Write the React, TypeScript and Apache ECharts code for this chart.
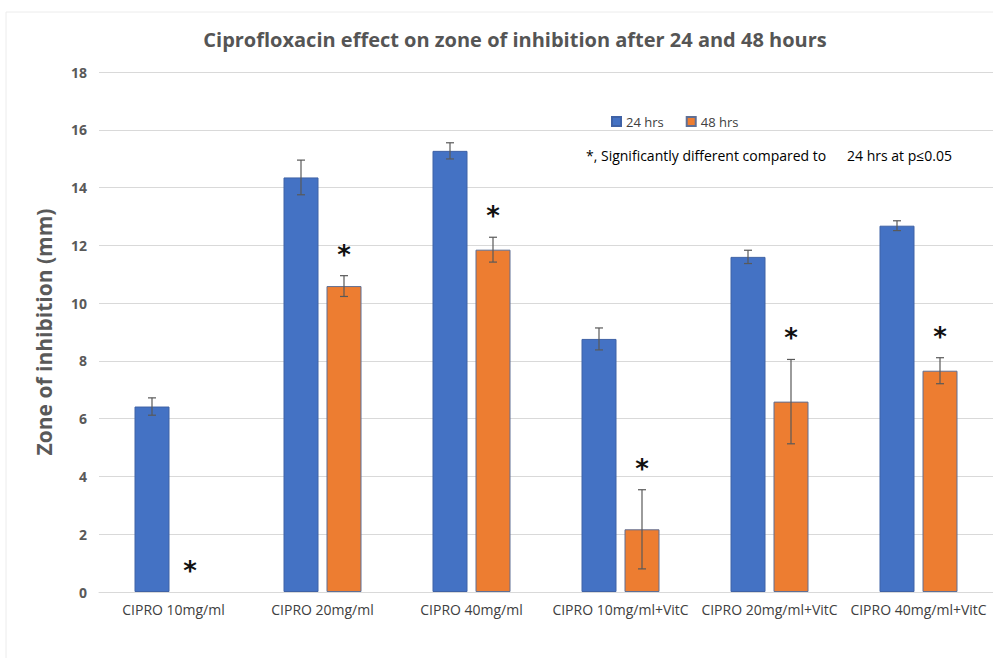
import React, { useEffect, useRef } from "react";
import * as echarts from "echarts";

const categories = [
  "CIPRO 10mg/ml",
  "CIPRO 20mg/ml",
  "CIPRO 40mg/ml",
  "CIPRO 10mg/ml+VitC",
  "CIPRO 20mg/ml+VitC",
  "CIPRO 40mg/ml+VitC",
];
const hrs24 = [6.42, 14.35, 15.27, 8.76, 11.6, 12.68];
const err24 = [0.3, 0.6, 0.28, 0.38, 0.23, 0.17];
const hrs48 = [0, 10.59, 11.85, 2.17, 6.59, 7.66];
const err48 = [0, 0.36, 0.43, 1.37, 1.46, 0.45];
const significant48 = [true, true, true, true, true, true];
const yTicks = { min: 0, max: 18, interval: 2 };

const BAR_W = 35;
const GAP = 8;
const OFFSET = (BAR_W + GAP) / 2;
const FONT = "'Open Sans', 'Noto Sans', sans-serif";

function barData(vals: number[]) {
  return vals.map((v) => (v === 0 ? { value: v, itemStyle: { borderWidth: 0 } } : v));
}

function errorSeries(name: string, vals: number[], errs: number[], offset: number) {
  return {
    type: "custom",
    name: name + " err",
    z: 5,
    silent: true,
    data: vals.map((v, i) => [i, v, errs[i]]),
    renderItem: (params: any, api: any) => {
      const i = api.value(0);
      const v = api.value(1);
      const e = api.value(2);
      if (!e) return { type: "group", children: [] };
      const c = api.coord([i, v]);
      const x = c[0] + offset;
      const top = api.coord([i, v + e])[1];
      const bot = api.coord([i, Math.max(0, v - e)])[1];
      const style = { stroke: "#595959", lineWidth: 1.2 };
      const cap = 4;
      return {
        type: "group",
        children: [
          { type: "line", shape: { x1: x, y1: top, x2: x, y2: bot }, style },
          { type: "line", shape: { x1: x - cap, y1: top, x2: x + cap, y2: top }, style },
          { type: "line", shape: { x1: x - cap, y1: bot, x2: x + cap, y2: bot }, style },
        ],
      };
    },
  };
}

export default function App() {
  const ref = useRef<HTMLDivElement>(null);
  useEffect(() => {
    if (!ref.current) return;
    const chart = echarts.init(ref.current, null, { renderer: "svg" });
    const option: any = {
      animation: false,
      backgroundColor: "#ffffff",
      title: {
        text: "Ciprofloxacin effect on zone of inhibition after 24 and 48 hours",
        left: 510,
        textAlign: "center",
        top: 24,
        textStyle: { fontFamily: FONT, fontSize: 20, fontWeight: "bold", color: "#555555" },
      },
      legend: {
        data: ["24 hrs", "48 hrs"],
        left: 606,
        top: 110,
        itemWidth: 9,
        itemHeight: 9,
        itemGap: 22,
        icon: "rect",
        textStyle: { fontFamily: FONT, fontSize: 13, color: "#404040" },
      },
      graphic: [
        {
          type: "rect",
          shape: { x: 6, y: 12, width: 1100, height: 1000 },
          style: { fill: "none", stroke: "#ececec", lineWidth: 1 },
          silent: true,
        },
        {
          type: "text",
          left: 586,
          top: 148,
          style: { text: "*, Significantly different compared to", fontFamily: FONT, fontSize: 14, fill: "#000000" },
        },
        {
          type: "text",
          left: 847,
          top: 148,
          style: { text: "24 hrs at p≤0.05", fontFamily: FONT, fontSize: 14, fill: "#000000" },
        },
      ],
      grid: { left: 99, right: 0, top: 72, bottom: 66 },
      xAxis: {
        type: "category",
        data: categories,
        axisLine: { lineStyle: { color: "#d9d9d9" } },
        axisTick: { show: false },
        axisLabel: { fontFamily: FONT, fontSize: 14, color: "#404040", margin: 10, interval: 0 },
      },
      yAxis: {
        type: "value",
        min: yTicks.min,
        max: yTicks.max,
        interval: yTicks.interval,
        name: "Zone of inhibition (mm)",
        nameLocation: "middle",
        nameGap: 45,
        nameTextStyle: { fontFamily: FONT, fontSize: 21, fontWeight: "bold", color: "#595959" },
        axisLine: { show: false },
        axisTick: { show: false },
        axisLabel: { fontFamily: FONT, fontSize: 14, fontWeight: "bold", color: "#595959", margin: 12 },
        splitLine: { lineStyle: { color: "#d9d9d9" } },
      },
      series: [
        {
          type: "bar",
          name: "24 hrs",
          data: barData(hrs24),
          barWidth: BAR_W,
          barGap: (GAP / BAR_W) * 100 + "%",
          itemStyle: { color: "#4472C4", borderColor: "#3f62a6", borderWidth: 1 },
        },
        {
          type: "bar",
          name: "48 hrs",
          data: barData(hrs48),
          barWidth: BAR_W,
          barGap: (GAP / BAR_W) * 100 + "%",
          itemStyle: { color: "#ED7D31", borderColor: "#5f6f94", borderWidth: 1 },
        },
        errorSeries("24 hrs", hrs24, err24, -OFFSET),
        errorSeries("48 hrs", hrs48, err48, OFFSET),
        {
          type: "custom",
          name: "significance",
          z: 6,
          silent: true,
          data: hrs48.map((v, i) => [i, v + err48[i], significant48[i] ? 1 : 0]),
          renderItem: (params: any, api: any) => {
            const i = api.value(0);
            const top = api.value(1);
            if (!api.value(2)) return { type: "group", children: [] };
            const c = api.coord([i, top]);
            return {
              type: "text",
              x: c[0] + OFFSET - (top === 0 ? 5 : 0),
              y: c[1] - 8,
              style: {
                text: "*",
                fontFamily: "'DejaVu Sans', sans-serif",
                fontSize: 26,
                fontWeight: "bold",
                fill: "#111111",
                align: "center",
                verticalAlign: "bottom",
              },
            };
          },
        },
      ],
    };
    chart.setOption(option);
    return () => chart.dispose();
  }, []);
  return (
    <div
      ref={ref}
      style={{ position: "fixed", left: 0, top: 0, width: 993, height: 658 }}
    />
  );
}
